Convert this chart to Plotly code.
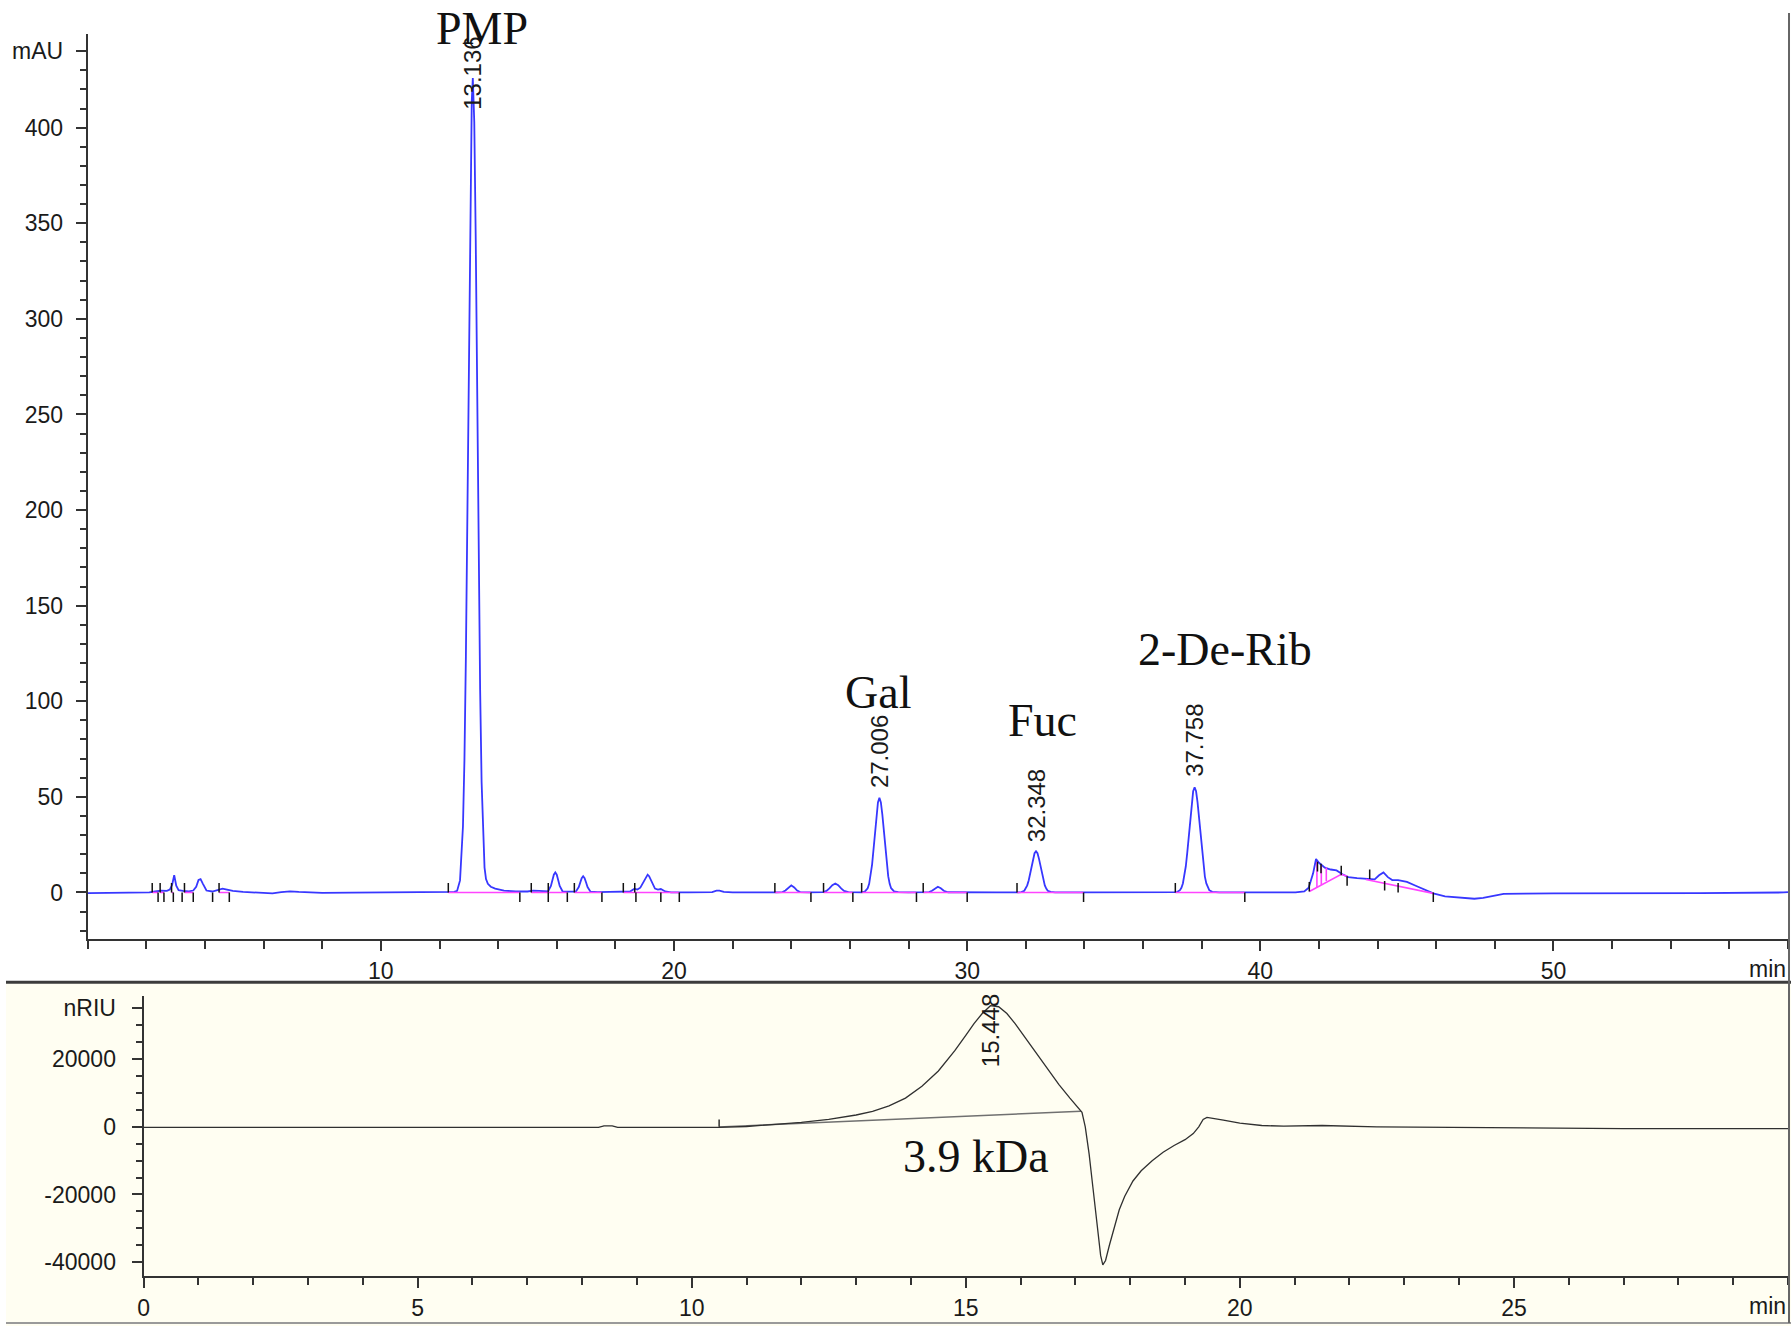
import plotly.graph_objects as go

# ---------------- data: UV chromatogram (mAU vs min) ----------------
uv_time = [0.0, 1.5, 2.1, 2.3, 2.5, 2.7, 2.8, 2.88, 2.95, 3.02, 3.1, 3.25, 3.45, 3.6, 3.7, 3.78, 3.85, 3.93, 4.05, 4.25, 4.45, 4.6, 4.75, 4.95, 5.3, 5.7,
           6.0, 6.3, 6.6, 6.9, 7.2, 7.6, 8.0, 9.0, 10.0, 11.0, 12.0, 12.3, 12.5, 12.6, 12.7, 12.8, 12.85, 12.9, 12.95, 13.0, 13.05,
           13.1, 13.136, 13.186, 13.236, 13.286, 13.336, 13.386, 13.436, 13.486, 13.536, 13.586, 13.65, 13.75, 13.9, 14.2, 14.6,
           15.0, 15.2, 15.4, 15.6, 15.7, 15.8, 15.85, 15.9, 15.95, 16.0, 16.05, 16.1, 16.2, 16.4, 16.65, 16.75, 16.8, 16.85, 16.9,
           16.95, 17.0, 17.05, 17.15, 17.4, 17.8, 18.2, 18.5, 18.65, 18.75, 18.85, 18.95, 19.05, 19.1, 19.15, 19.25, 19.35, 19.45,
           19.55, 19.7, 19.9, 20.5, 21.3, 21.45, 21.55, 21.7, 22.0, 23.5, 23.7, 23.8, 23.9, 24.0, 24.1, 24.2, 24.3, 24.6, 25.1,
           25.2, 25.3, 25.4, 25.5, 25.6, 25.7, 25.8, 25.95, 26.4, 26.506, 26.606, 26.656, 26.706, 26.756, 26.806, 26.856, 26.906,
           26.956, 27.006, 27.056, 27.106, 27.156, 27.206, 27.256, 27.306, 27.356, 27.406, 27.506, 27.65, 28.0, 28.7, 28.8, 28.9,
           29.0, 29.1, 29.2, 29.35, 29.7, 31.0, 31.75, 31.848, 31.948, 31.998, 32.048, 32.098, 32.148, 32.198, 32.248, 32.298,
           32.348, 32.398, 32.448, 32.498, 32.548, 32.598, 32.648, 32.698, 32.748, 32.848, 33.0, 34.0, 36.5, 37.158, 37.258,
           37.308, 37.358, 37.408, 37.458, 37.508, 37.558, 37.608, 37.658, 37.708, 37.758, 37.808, 37.858, 37.908, 37.958,
           38.008, 38.058, 38.108, 38.158, 38.208, 38.258, 38.358, 38.6, 39.0, 40.0, 41.2, 41.5, 41.65, 41.8, 41.9, 42.0, 42.1,
           42.2, 42.4, 42.6, 42.8, 43.0, 43.3, 43.6, 43.9, 44.05, 44.2, 44.35, 44.5, 44.7, 45.0, 45.3, 45.6, 45.9, 46.3, 46.8,
           47.3, 47.6, 47.9, 48.3, 49.0, 50.0, 55.0, 57.6, 57.85, 58.0]
uv_mau = [-0.3, -0.3, 0.0, 0.5, 1.0, 0.8, 1.5, 4.0, 9.0, 3.5, 1.2, 0.8, 0.6, 1.0, 3.0, 6.5, 7.0, 4.5, 1.0, 0.5, 1.5, 2.0, 1.5, 0.8, 0.3, 0.0,
          -0.2, -0.5, 0.2, 0.6, 0.3, 0.0, -0.2, -0.1, 0.0, 0.0, 0.0, 0.0, 0.3, 0.8, 6.3, 34.6, 69.0, 123.5, 197.0, 282.0, 361.0,
          414.0, 426.0, 403.0, 341.0, 258.0, 175.0, 106.0, 57.6, 28.0, 13.0, 7.0, 4.5, 3.0, 2.0, 1.0, 0.5,
          0.5, 1.0, 0.8, 0.5, 0.5, 3.4, 6.4, 9.3, 10.5, 9.3, 6.4, 3.4, 0.5, 0.3, 0.4, 2.8, 5.2, 7.5, 8.5,
          7.5, 5.2, 2.8, 0.4, 0.2, 0.3, 0.5, 0.5, 2.0, 1.5, 2.5, 5.5, 8.5, 9.3, 8.5, 5.0, 2.0, 1.5,
          1.8, 0.5, 0.0, 0.0, 0.2, 0.9, 1.0, 0.3, 0.0, 0.0, 0.2, 1.0, 2.6, 3.7, 2.6, 1.0, 0.2, 0.0, 0.2,
          0.8, 2.1, 3.8, 4.7, 3.8, 2.1, 0.8, 0.2, 0.0, 0.4, 2.2, 4.5, 8.5, 14.6, 22.7, 31.9, 40.7,
          47.1, 49.5, 47.1, 40.7, 31.9, 22.7, 14.6, 8.5, 4.5, 2.2, 0.6, 0.2, 0.0, 0.2, 0.9, 2.2,
          3.0, 2.2, 0.9, 0.1, 0.0, 0.0, 0.0, 0.2, 0.9, 2.0, 3.7, 6.3, 9.8, 13.9, 17.7, 20.5,
          21.5, 20.5, 17.7, 13.9, 9.8, 6.3, 3.7, 2.0, 0.9, 0.3, 0.0, 0.0, 0.0, 0.2, 1.2,
          2.4, 4.7, 8.3, 13.7, 21.0, 29.7, 38.9, 47.1, 52.9, 55.0, 52.9, 47.1, 38.9, 29.7,
          21.0, 13.7, 8.3, 4.7, 2.4, 1.2, 0.3, 0.0, 0.0, 0.0, 0.0, 0.5, 2.5, 10.0, 17.5, 15.5, 14.0,
          13.0, 12.0, 11.5, 9.5, 8.0, 7.5, 7.0, 6.8, 9.0, 10.5, 8.0, 6.5, 6.5, 5.5, 3.5, 1.5, -0.5, -2.0, -2.8,
          -3.3, -2.8, -1.8, -0.8, -0.6, -0.5, -0.4, -0.3, 0.0, 0.2]

# integration events (start / end) and the baseline level at each event
evt_start_t = [2.2, 2.47, 2.86, 3.3, 4.48, 12.3, 15.13, 15.71, 16.6, 18.27, 18.66, 23.44, 25.1, 26.4, 28.5, 31.7, 37.1,
               41.67, 41.95, 42.07, 42.76, 43.73]
evt_start_b = [0, 0, 0, 0, 0, 0, 0, 0, 0, 0, 0, 0, 0, 0, 0, 0, 0, 0.5, 11.0, 10.0, 9.0, 7.0]
evt_end_t = [2.4, 2.6, 2.92, 3.22, 3.6, 4.26, 4.83, 14.74, 15.71, 16.36, 17.54, 18.7, 19.55, 20.18, 24.67, 26.1, 28.27,
             30.0, 33.97, 39.47, 42.96, 44.24, 44.7, 45.9]
evt_end_b = [0, 0, 0, 0, 0, 0, 0, 0, 0, 0, 0, 0, 0, 0, 0, 0, 0, 0, 0, 0, 8.5, 6.0, 5.0, 0.0]

# integration baselines (magenta), segments separated by None
base_t = [2.2, 2.4, None, 2.47, 2.6, None, 2.86, 2.92, None, 3.3, 3.6, None, 4.48, 4.83, None, 12.3, 14.74, None,
          15.13, 16.36, None, 16.6, 17.54, None, 18.27, 20.18, None, 23.44, 24.67, None, 25.1, 26.1, None, 26.4, 28.27, None,
          28.5, 30.0, None, 31.7, 33.97, None, 37.1, 39.47, None,
          41.67, 42.76, 42.96, None, 43.6, 45.9, None,
          41.93, 41.93, None, 42.08, 42.08, None, 42.25, 42.25]
base_v = [0, 0, None, 0, 0, None, 0, 0, None, 0, 0, None, 0, 0, None, 0, 0, None,
          0, 0, None, 0, 0, None, 0, 0, None, 0, 0, None, 0, 0, None, 0, 0, None,
          0, 0, None, 0, 0, None, 0, 0, None,
          0.5, 9.5, 8.5, None, 6.8, -0.5, None,
          2.5, 16.0, None, 4.0, 14.0, None, 6.0, 13.0]

uv_peak_rt = [13.136, 27.006, 32.348, 37.758]
uv_peak_text = ["13.136", "27.006", "32.348", "37.758"]
uv_peak_label_base = [409, 54, 25.5, 60]
compound_names = ["PMP", "Gal", "Fuc", "2-De-Rib"]
compound_t = [13.44, 26.95, 32.58, 38.8]
compound_y = [452, 104.6, 90, 127]

# ---------------- data: RI chromatogram (nRIU vs min) ----------------
ri_time = [0.0, 8.3, 8.4, 8.55, 8.65, 10.5, 11.0, 11.5, 12.0, 12.5, 13.0, 13.3, 13.6, 13.9, 14.2, 14.5, 14.8, 15.0, 15.15,
           15.3, 15.45, 15.6, 15.75, 15.9, 16.1, 16.3, 16.5, 16.7, 16.9, 17.05, 17.12, 17.18, 17.25, 17.32, 17.4, 17.46, 17.5,
           17.55, 17.62, 17.7, 17.8, 17.9, 18.05, 18.2, 18.4, 18.6, 18.8, 19.0, 19.15, 19.25, 19.33, 19.4, 19.5, 19.7, 20.0,
           20.4, 20.8, 21.5, 22.5, 24.0, 26.5, 27.0, 30.0]
ri_nriu = [-150, -150, 300, 300, -150, -150, 100, 600, 1300, 2200, 3500, 4600, 6200, 8500, 12000, 16500, 22500, 27000, 30500,
           33500, 35800, 35500, 33500, 30500, 26000, 21500, 17000, 12500, 8500, 5500, 4300, 0, -8000, -18000, -30000, -38000,
           -40800, -39500, -35000, -30000, -24500, -20500, -16000, -13000, -10000, -7500, -5500, -3800, -2000, 0, 2200, 2800,
           2600, 2000, 1100, 400, 200, 400, 0, -150, -300, -500, -500]
ri_base_t = [10.5, 17.1]
ri_base_v = [0, 4600]
ri_evt_t = [10.5]
ri_evt_b = [0]
ri_peak_rt = [15.448]
ri_peak_text = ["15.448"]
ri_peak_label_base = [17300]
ri_note = ["3.9 kDa"]
ri_note_t = [15.19]
ri_note_y = [-8900]

# ---------------- build figure ----------------
W, H = 1791, 1326
UV_RANGE = [-24.5, 449]
UV_TOP_PX, UV_BOT_PX = 33, 939
UV_PX_PER_UNIT = (UV_BOT_PX - UV_TOP_PX) / (UV_RANGE[1] - UV_RANGE[0])
TICK_UV = 5.0
TICK_RI = 2200

ev_x, ev_y = [], []
for t, b in zip(evt_start_t, evt_start_b):
    ev_x += [t, t, None]
    ev_y += [b, b + TICK_UV, None]
for t, b in zip(evt_end_t, evt_end_b):
    ev_x += [t, t, None]
    ev_y += [b, b - TICK_UV, None]
ri_ev_x, ri_ev_y = [], []
for t, b in zip(ri_evt_t, ri_evt_b):
    ri_ev_x += [t, t, None]
    ri_ev_y += [b, b + TICK_RI, None]

fig = go.Figure()
fig.add_trace(go.Scatter(x=uv_time, y=uv_mau, mode="lines", line=dict(color="rgb(55,55,255)", width=1.8),
                         xaxis="x", yaxis="y", hoverinfo="skip"))
fig.add_trace(go.Scatter(x=base_t, y=base_v, mode="lines", line=dict(color="#ff44ff", width=1.6),
                         xaxis="x", yaxis="y", hoverinfo="skip", connectgaps=False))
fig.add_trace(go.Scatter(x=ev_x, y=ev_y, mode="lines", line=dict(color="#111111", width=1.5),
                         xaxis="x", yaxis="y", hoverinfo="skip", connectgaps=False))
fig.add_trace(go.Scatter(x=ri_base_t, y=ri_base_v, mode="lines", line=dict(color="#707070", width=1.4),
                         xaxis="x2", yaxis="y2", hoverinfo="skip"))
fig.add_trace(go.Scatter(x=ri_time, y=ri_nriu, mode="lines", line=dict(color="#303030", width=1.3),
                         xaxis="x2", yaxis="y2", hoverinfo="skip"))
fig.add_trace(go.Scatter(x=ri_ev_x, y=ri_ev_y, mode="lines", line=dict(color="#111111", width=1.3),
                         xaxis="x2", yaxis="y2", hoverinfo="skip", connectgaps=False))

tickfont = dict(family="Liberation Sans, Arial, sans-serif", size=23, color="#1a1a1a")
axcol = "#333333"

fig.update_layout(
    width=W, height=H,
    margin=dict(l=0, r=0, t=0, b=0),
    paper_bgcolor="white",
    plot_bgcolor="rgba(0,0,0,0)",
    showlegend=False,
    hovermode=False,
    xaxis=dict(domain=[82 / W, 1788 / W], anchor="y", range=[0, 58],
               tickvals=[10, 20, 30, 40, 50], ticktext=["10", "20", "30", "40", "50"],
               ticks="outside", ticklen=10, tickwidth=1.5, tickcolor=axcol,
               minor=dict(dtick=2, tick0=0, ticks="outside", ticklen=8, tickwidth=1.5, tickcolor=axcol),
               showline=True, linecolor=axcol, linewidth=2, showgrid=False, zeroline=False,
               tickfont=tickfont),
    yaxis=dict(domain=[1 - UV_BOT_PX / H, 1 - UV_TOP_PX / H], anchor="x", range=UV_RANGE,
               tickvals=[0, 50, 100, 150, 200, 250, 300, 350, 400, 440],
               ticktext=["0", "50", "100", "150", "200", "250", "300", "350", "400", "mAU"],
               ticks="outside", ticklen=10, tickwidth=1.5, tickcolor=axcol, ticklabelstandoff=8,
               minor=dict(dtick=10, tick0=0, ticks="outside", ticklen=6, tickwidth=1.5, tickcolor=axcol),
               showline=True, linecolor=axcol, linewidth=2, showgrid=False, zeroline=False,
               tickfont=tickfont),
    xaxis2=dict(domain=[138 / W, 1788 / W], anchor="y2", range=[0, 30],
                tickvals=[0, 5, 10, 15, 20, 25], ticktext=["0", "5", "10", "15", "20", "25"],
                ticks="outside", ticklen=10, tickwidth=1.5, tickcolor=axcol,
                minor=dict(dtick=1, tick0=0, ticks="outside", ticklen=7, tickwidth=1.5, tickcolor=axcol),
                showline=True, linecolor=axcol, linewidth=2, showgrid=False, zeroline=False,
                tickfont=tickfont),
    yaxis2=dict(domain=[1 - 1276 / H, 1 - 996 / H], anchor="x2", range=[-44100, 38600],
                tickvals=[-40000, -20000, 0, 20000, 35000],
                ticktext=["-40000", "-20000", "0", "20000", "nRIU"],
                ticks="outside", ticklen=10, tickwidth=1.5, tickcolor=axcol, ticklabelstandoff=11,
                minor=dict(dtick=5000, tick0=0, ticks="outside", ticklen=6, tickwidth=1.5, tickcolor=axcol),
                showline=True, linecolor=axcol, linewidth=2, showgrid=False, zeroline=False,
                tickfont=tickfont),
)

shapes = [
    dict(type="rect", xref="paper", yref="paper", x0=0, x1=1, y0=0, y1=1 - 982 / H,
         fillcolor="#FFFEF2", line=dict(width=0), layer="below"),
    dict(type="line", xref="paper", yref="paper", x0=0, x1=1, y0=1 - 982 / H, y1=1 - 982 / H,
         line=dict(color="#3c3c3c", width=3)),
    dict(type="line", xref="paper", yref="paper", x0=0, x1=1, y0=1 - 1323 / H, y1=1 - 1323 / H,
         line=dict(color="#9a9a9a", width=2)),
    dict(type="line", xref="paper", yref="paper", x0=1789 / W, x1=1789 / W, y0=1 - 1323 / H, y1=1 - 12 / H,
         line=dict(color="#666666", width=2)),
]
fig.update_layout(shapes=shapes)

numfont = dict(family="Liberation Sans, Arial, sans-serif", size=24, color="#1a1a1a")
serif = dict(family="Liberation Serif, Times New Roman, serif", size=46, color="#111111")
ann = []
for t, txt, b in zip(uv_peak_rt, uv_peak_text, uv_peak_label_base):
    ann.append(dict(x=t, y=b, xref="x", yref="y", text=txt, showarrow=False, textangle=-90,
                    xanchor="center", yanchor="bottom", font=numfont, borderpad=0))
for t, txt, b in zip(ri_peak_rt, ri_peak_text, ri_peak_label_base):
    ann.append(dict(x=t, y=b, xref="x2", yref="y2", text=txt, showarrow=False, textangle=-90,
                    xanchor="center", yanchor="bottom", font=numfont, borderpad=0))
for t, y, txt in zip(compound_t, compound_y, compound_names):
    y_in = min(y, UV_RANGE[1] - 1)  # keep anchor inside the axis range, shift the rest in pixels
    ann.append(dict(x=t, y=y_in, xref="x", yref="y", text=txt, showarrow=False,
                    yshift=(y - y_in) * UV_PX_PER_UNIT,
                    xanchor="center", yanchor="middle", font=serif))
for t, y, txt in zip(ri_note_t, ri_note_y, ri_note):
    ann.append(dict(x=t, y=y, xref="x2", yref="y2", text=txt, showarrow=False,
                    xanchor="center", yanchor="middle", font=serif))
# unit labels at the right end of each time axis
ann.append(dict(x=58, y=1 - 969 / H, xref="x", yref="paper", text="min", showarrow=False,
                xanchor="right", yanchor="middle", font=tickfont))
ann.append(dict(x=30, y=1 - 1306 / H, xref="x2", yref="paper", text="min", showarrow=False,
                xanchor="right", yanchor="middle", font=tickfont))
fig.update_layout(annotations=ann)

fig.write_html("out.html", config={"displayModeBar": False},
               post_script="document.body.style.margin='0px';")
